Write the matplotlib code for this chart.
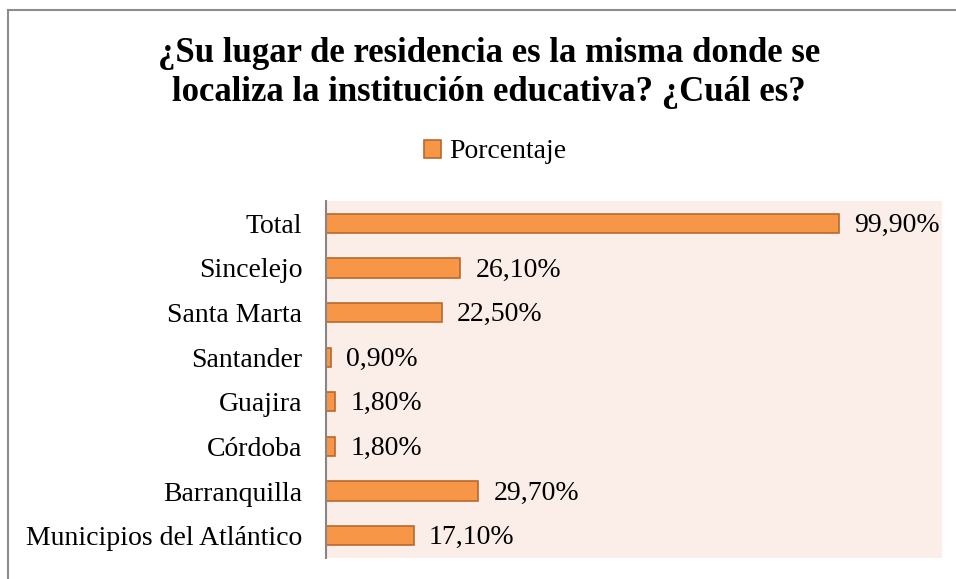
import matplotlib.pyplot as plt
from matplotlib.lines import Line2D

categorias = ["Municipios del Atlántico", "Barranquilla", "Córdoba", "Guajira",
              "Santander", "Santa Marta", "Sincelejo", "Total"]
porcentajes = [17.1, 29.7, 1.8, 1.8, 0.9, 22.5, 26.1, 99.9]
etiquetas = ["17,10%", "29,70%", "1,80%", "1,80%", "0,90%", "22,50%", "26,10%", "99,90%"]

fuente = "Liberation Serif"

fig = plt.figure(figsize=(9.56, 5.79), dpi=100)
ax = fig.add_axes([326/956, 1-558/579, 616/956, 357/579])
ax.set_facecolor("#fbede8")

barras = ax.barh(range(len(categorias)), porcentajes, height=0.43,
                 color="#f79646", edgecolor="#b8692e", linewidth=1.2, label="Porcentaje")
for i, (v, t) in enumerate(zip(porcentajes, etiquetas)):
    ax.annotate(t, (v, i), xytext=(11, -1.5), textcoords="offset points",
                va="center", ha="left", fontsize=20, family=fuente)

ax.set_xlim(0, 120)
ax.set_ylim(-0.5, len(categorias) - 0.5)
ax.set_yticks(range(len(categorias)))
ax.set_yticklabels(categorias, fontsize=20, family=fuente)
ax.tick_params(axis="y", length=0, pad=17)
ax.set_xticks([])
for s in ["top", "right", "bottom"]:
    ax.spines[s].set_visible(False)
ax.spines["left"].set_color("#868686")
ax.spines["left"].set_linewidth(1.5)

fig.text(489/956, 1-73/579, "¿Su lugar de residencia es la misma donde se\nlocaliza la institución educativa? ¿Cuál es?",
         ha="center", va="center", fontsize=25, fontweight="bold", family=fuente,
         linespacing=1.25)

fig.legend(handles=[barras], loc="center", bbox_to_anchor=(495/956, 1-152/579),
           frameon=False, prop={"family": fuente, "size": 20},
           handlelength=0.6, handleheight=0.6, handletextpad=0.3)

# borde del cuadro del gráfico
fig.add_artist(Line2D([8/956, 8/956], [0, 1-10/579], transform=fig.transFigure,
                      color="#8c8c8c", linewidth=1.5))
fig.add_artist(Line2D([8/956, 1], [1-10/579, 1-10/579], transform=fig.transFigure,
                      color="#8c8c8c", linewidth=1.5))

fig.savefig("out.png", dpi=100)
